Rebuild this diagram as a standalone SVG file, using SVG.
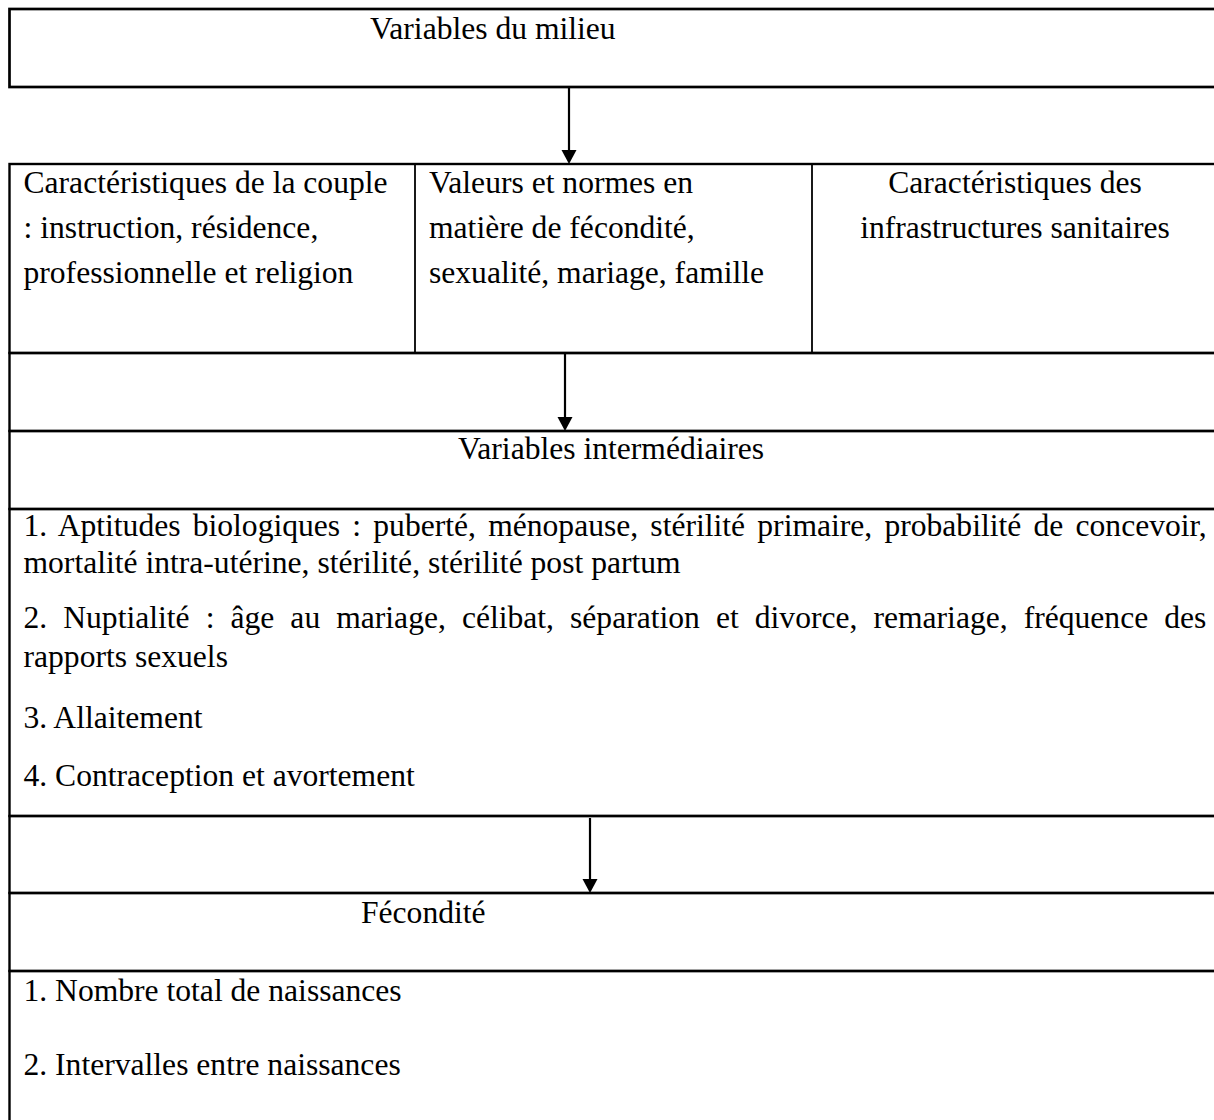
<svg xmlns="http://www.w3.org/2000/svg" width="1214" height="1120" viewBox="0 0 1214 1120">
<style>
  .box { fill: #fff; stroke: #000; stroke-width: 2.4; }
  .thick { stroke-width: 2.7; }
  .frame { fill: none; stroke: #000; stroke-width: 2.4; }
  .cell { fill: none; stroke: none; }
  .div { stroke: #000; stroke-width: 1.8; }
  .t { font-family: "Liberation Serif", "Times New Roman", serif; font-size: 31.6px; fill: #000; }
  .mid { text-anchor: middle; }
  .arrow { stroke: #000; stroke-width: 2.2; fill: none; marker-end: url(#ah); }
</style>
<defs>
  <marker id="ah" markerUnits="userSpaceOnUse" markerWidth="16" markerHeight="16" refX="0" refY="7.5" orient="auto">
    <path d="M0,0 L14,7.5 L0,15 Z" fill="#000"/>
  </marker>
</defs>

<g id="table-frame">
  <rect class="frame" x="9.5" y="164" width="1209" height="189"/>
  <line class="div" x1="415" y1="164" x2="415" y2="353"/>
  <line class="div" x1="812" y1="164" x2="812" y2="353"/>
  <rect class="frame" x="9.5" y="353" width="1209" height="78"/>
  <rect class="frame" x="9.5" y="816" width="1209" height="77"/>
</g>

<g id="node-milieu">
  <rect class="box thick" x="9.5" y="9" width="1209" height="78"/>
  <text class="t" x="370" y="39">Variables du milieu</text>
</g>

<g id="node-couple">
  <rect class="cell" x="9.5" y="164" width="405.5" height="189"/>
  <text class="t" x="23.5" y="193">Caractéristiques de la couple</text>
  <text class="t" x="23.5" y="238">: instruction, résidence,</text>
  <text class="t" x="23.5" y="283">professionnelle et religion</text>
</g>

<g id="node-valeurs">
  <rect class="cell" x="415" y="164" width="397" height="189"/>
  <text class="t" x="429" y="193">Valeurs et normes en</text>
  <text class="t" x="429" y="238">matière de fécondité,</text>
  <text class="t" x="429" y="283">sexualité, mariage, famille</text>
</g>

<g id="node-infrastructures">
  <rect class="cell" x="812" y="164" width="406" height="189"/>
  <text class="t mid" x="1015" y="193">Caractéristiques des</text>
  <text class="t mid" x="1015" y="238">infrastructures sanitaires</text>
</g>

<g id="node-intermediaires">
  <rect class="frame" x="9.5" y="431" width="1209" height="78"/>
  <text class="t" x="458" y="459">Variables intermédiaires</text>
</g>

<g id="node-liste-intermediaires">
  <rect class="frame" x="9.5" y="509" width="1209" height="307"/>
  <text class="t" x="23.5" y="536" word-spacing="4.3">1. Aptitudes biologiques : puberté, ménopause, stérilité primaire, probabilité de concevoir,</text>
  <text class="t" x="23.5" y="573">mortalité intra-utérine, stérilité, stérilité post partum</text>
  <text class="t" x="23.5" y="628" word-spacing="8.15">2. Nuptialité : âge au mariage, célibat, séparation et divorce, remariage, fréquence des</text>
  <text class="t" x="23.5" y="667">rapports sexuels</text>
  <text class="t" x="23.5" y="728">3. Allaitement</text>
  <text class="t" x="23.5" y="786">4. Contraception et avortement</text>
</g>

<g id="node-fecondite">
  <rect class="frame" x="9.5" y="893" width="1209" height="78"/>
  <text class="t" x="361" y="923">Fécondité</text>
</g>

<g id="node-naissances">
  <rect class="frame" x="9.5" y="971" width="1209" height="160"/>
  <text class="t" x="23.5" y="1001">1. Nombre total de naissances</text>
  <text class="t" x="23.5" y="1075">2. Intervalles entre naissances</text>
</g>

<g id="connectors">
  <line class="arrow" x1="569" y1="88" x2="569" y2="150"/>
  <line class="arrow" x1="565" y1="354" x2="565" y2="417"/>
  <line class="arrow" x1="590" y1="818" x2="590" y2="879"/>
</g>
</svg>
